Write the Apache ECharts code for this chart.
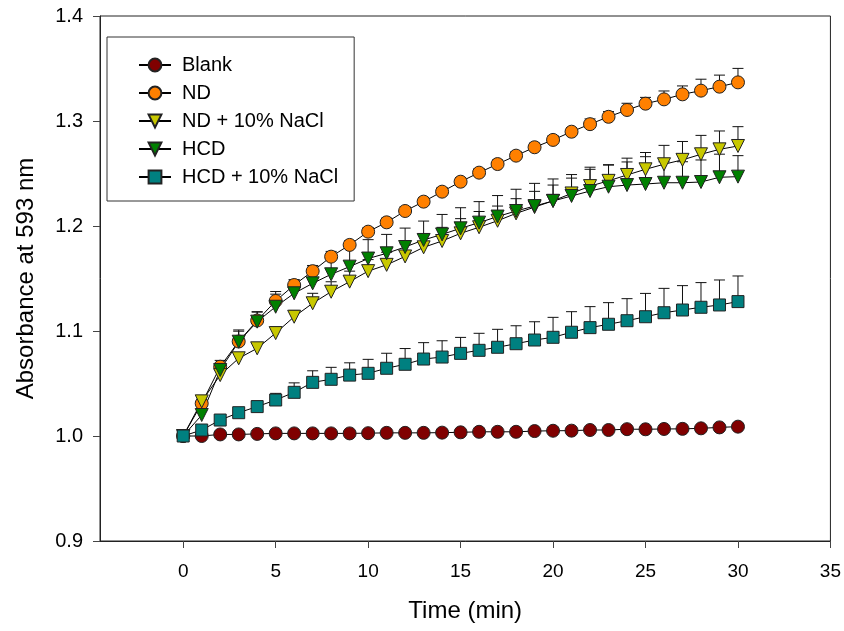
<!DOCTYPE html>
<html>
<head>
<meta charset="utf-8">
<script src="https://cdn.jsdelivr.net/npm/echarts@6/dist/echarts.min.js"></script>
<style>
html,body{margin:0;padding:0;background:#fff;}
#chart{width:844px;height:631px;}
</style>
</head>
<body>
<div id="chart"></div>
<script>
// ---- data ----
var times = [0,1,2,3,4,5,6,7,8,9,10,11,12,13,14,15,16,17,18,19,20,21,22,23,24,25,26,27,28,29,30];
var xTicks = [0,5,10,15,20,25,30,35];
var seriesNames = ['Blank','ND','ND + 10% NaCl','HCD','HCD + 10% NaCl'];

var blank = [1.000,1.000,1.0015,1.0015,1.002,1.0025,1.0025,1.0025,1.0025,1.0025,1.0027,1.003,1.003,1.003,1.0032,1.0035,1.004,1.004,1.004,1.0047,1.005,1.0051,1.0057,1.0057,1.0065,1.0064,1.0067,1.0068,1.0073,1.0082,1.0089];

var nd = [1.000,1.031,1.066,1.090,1.110,1.1286,1.1438,1.157,1.1708,1.182,1.1946,1.2035,1.2143,1.2232,1.2327,1.2422,1.2508,1.259,1.267,1.275,1.282,1.2898,1.297,1.304,1.3105,1.3165,1.3206,1.3254,1.3289,1.3327,1.3368];
var ndErr = [0,0.004,0.006,0.011,0.008,0.009,0.005,0.005,0.005,0.004,0.004,0.004,0.004,0.004,0.004,0.004,0.004,0.004,0.004,0.004,0.004,0.004,0.005,0.005,0.0064,0.006,0.008,0.008,0.0109,0.011,0.0133];

var ndNaCl = [1.000,1.033,1.058,1.074,1.0835,1.098,1.1136,1.1264,1.1374,1.147,1.157,1.163,1.171,1.1797,1.1857,1.193,1.1988,1.205,1.212,1.218,1.224,1.231,1.238,1.243,1.2486,1.254,1.2588,1.263,1.2683,1.273,1.2762];
var ndNaClErr = [0,0.004,0.005,0.005,0.005,0.006,0.006,0.0095,0.0095,0.010,0.011,0.012,0.012,0.013,0.013,0.014,0.015,0.014,0.014,0.015,0.015,0.018,0.018,0.015,0.016,0.016,0.018,0.0175,0.018,0.0175,0.0184];

var hcd = [1.000,1.020,1.0629,1.0898,1.1089,1.1231,1.1359,1.1454,1.154,1.1613,1.169,1.174,1.180,1.1867,1.192,1.1978,1.2032,1.209,1.2143,1.219,1.2238,1.2286,1.2333,1.2374,1.239,1.240,1.2412,1.2412,1.2419,1.2464,1.247];
var hcdErr = [0,0.004,0.006,0.010,0.0095,0.012,0.0127,0.017,0.017,0.018,0.018,0.018,0.018,0.018,0.019,0.0196,0.020,0.020,0.0207,0.0216,0.021,0.017,0.0207,0.021,0.022,0.026,0.020,0.020,0.021,0.022,0.020];

var hcdNaCl = [1.000,1.0057,1.0152,1.0222,1.028,1.0343,1.0416,1.0511,1.054,1.058,1.0597,1.0645,1.0683,1.0733,1.0752,1.0787,1.0816,1.0845,1.0879,1.0914,1.094,1.0988,1.1032,1.1064,1.1098,1.1136,1.1174,1.12,1.1226,1.1248,1.128];
var hcdNaClErr = [0,0.002,0.003,0.004,0.005,0.0063,0.009,0.011,0.0114,0.0117,0.0133,0.0143,0.015,0.0156,0.0155,0.0152,0.0162,0.0171,0.0171,0.0174,0.019,0.0196,0.020,0.0206,0.021,0.0222,0.0232,0.0232,0.0235,0.0238,0.0244];

// ---- build ----
var FONT = 'Liberation Sans, Arial, sans-serif';
var downTri = 'path://M0,0L20,0L10,20Z';

function pairs(vals){ return times.map(function(t,i){ return [t, vals[i]]; }); }
function triples(vals, errs){ return times.map(function(t,i){ return [t, vals[i], errs[i]]; }); }

function errSeries(id, vals, errs){
  return {
    type: 'custom',
    name: id,
    silent: true,
    renderItem: function(params, api){
      var x = api.value(0), y = api.value(1), e = api.value(2);
      if (!(e > 0)) return null;
      var p0 = api.coord([x, y]);
      var p1 = api.coord([x, y + e]);
      return {
        type: 'group',
        children: [
          {type:'line', shape:{x1:p0[0], y1:p0[1], x2:p1[0], y2:p1[1]}, style:{stroke:'#111', lineWidth:1}},
          {type:'line', shape:{x1:p1[0]-5.5, y1:p1[1], x2:p1[0]+5.5, y2:p1[1]}, style:{stroke:'#111', lineWidth:1}}
        ]
      };
    },
    data: triples(vals, errs)
  };
}

function lineSeries(name, vals, symbol, size, color){
  return {
    type: 'line',
    name: name,
    data: pairs(vals),
    symbol: symbol,
    symbolSize: size,
    showAllSymbol: true,
    lineStyle: {color: '#000', width: 1},
    itemStyle: {color: color, borderColor: '#222', borderWidth: 1},
    emphasis: {disabled: true}
  };
}

var chart = echarts.init(document.getElementById('chart'), null, {renderer: 'canvas'});
chart.setOption({
  animation: false,
  backgroundColor: '#fff',
  grid: {left: 100, top: 16, right: 13, bottom: 90, show: true, borderColor: '#222', borderWidth: 1, backgroundColor: 'transparent'},
  legend: {
    orient: 'vertical',
    left: 107, top: 37,
    data: seriesNames,
    itemWidth: 32, itemHeight: 16, itemGap: 8,
    padding: [18, 16, 14, 31],
    borderColor: '#333', borderWidth: 1,
    textStyle: {fontFamily: FONT, fontSize: 20, color: '#000', padding: [0,0,0,6]},
    selectedMode: false
  },
  xAxis: {
    type: 'value',
    min: -4.5, max: 35,
    name: 'Time (min)',
    nameLocation: 'middle',
    nameGap: 58,
    nameTextStyle: {fontFamily: FONT, fontSize: 24, color: '#000'},
    axisLine: {show: true, onZero: false, lineStyle: {color: '#222', width: 1}},
    axisTick: {show: true, inside: false, length: 7, customValues: xTicks, lineStyle: {color: '#444'}},
    axisLabel: {customValues: xTicks, fontFamily: FONT, fontSize: 19, color: '#000', margin: 21},
    splitLine: {show: false}
  },
  yAxis: {
    type: 'value',
    min: 0.9, max: 1.4, interval: 0.1,
    name: 'Absorbance at 593 nm',
    nameLocation: 'middle',
    nameGap: 62,
    nameTextStyle: {fontFamily: FONT, fontSize: 24, color: '#000'},
    axisLine: {show: true, onZero: false, lineStyle: {color: '#222', width: 1}},
    axisTick: {show: true, inside: false, length: 7, lineStyle: {color: '#444'}},
    axisLabel: {fontFamily: FONT, fontSize: 20, color: '#000', margin: 17, formatter: function(v){ return v.toFixed(1); }},
    splitLine: {show: false}
  },
  series: [
    lineSeries('Blank', blank, 'circle', 13, '#800000'),
    errSeries('ND err', nd, ndErr),
    lineSeries('ND', nd, 'circle', 13, '#FF8000'),
    errSeries('ND + 10% NaCl err', ndNaCl, ndNaClErr),
    lineSeries('ND + 10% NaCl', ndNaCl, downTri, 13, '#C8C800'),
    errSeries('HCD err', hcd, hcdErr),
    lineSeries('HCD', hcd, downTri, 13, '#008000'),
    errSeries('HCD + 10% NaCl err', hcdNaCl, hcdNaClErr),
    lineSeries('HCD + 10% NaCl', hcdNaCl, 'rect', 12, '#008080')
  ]
});
</script>
</body>
</html>
